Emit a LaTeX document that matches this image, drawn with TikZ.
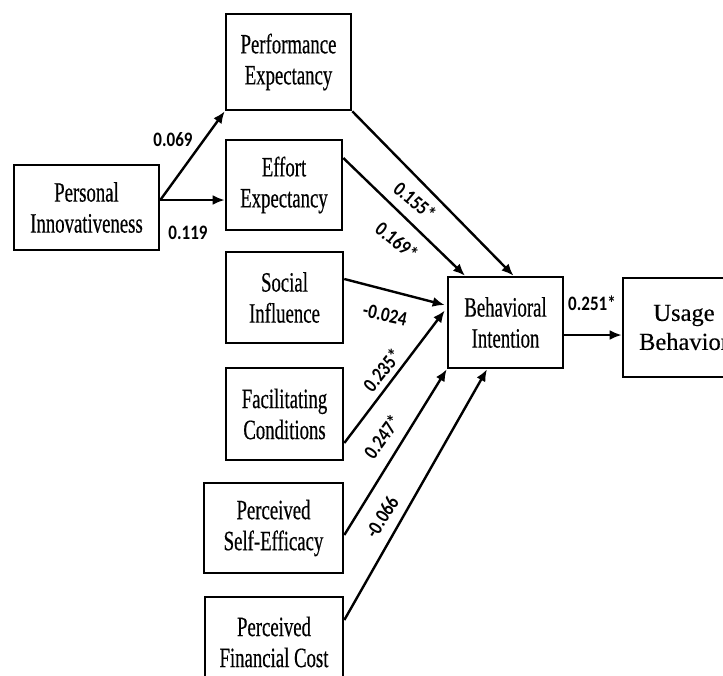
\documentclass[tikz,border=0pt]{standalone}
\usepackage{fontspec}
\setmainfont{Liberation Serif}
\newfontfamily\boxfont[FakeStretch=0.67,FakeBold=0.4]{Liberation Serif}
\newfontfamily\plainfont[FakeBold=0.3]{Liberation Serif}
\newfontfamily\coeffont[FakeStretch=0.83]{Carlito}
\usetikzlibrary{arrows.meta,calc}

\begin{document}
\begin{tikzpicture}[x=1pt,y=-1pt,
  box/.style={draw, line width=2.6pt, align=center, inner sep=0pt,
    font=\boxfont\fontsize{28}{31}\selectfont},
  plainbox/.style={box, font=\plainfont\fontsize{24.5}{29}\selectfont},
  link/.style={line width=2.4pt, -{Latex[length=12pt,width=10pt]}},
  coef/.style={font=\coeffont\bfseries\fontsize{20.5}{22}\selectfont, inner sep=0pt}]

\useasboundingbox (0,0) rectangle (723,675);
\clip (0,0) rectangle (723,675);
\fill[white] (0,0) rectangle (723,675);

% constructs
\node[box, minimum width=145pt, minimum height=85pt] (PI)  at (86.5,207.5) {Personal\\Innovativeness};
\node[box, minimum width=125pt, minimum height=96pt] (PE)  at (288.5,62)   {Performance\\Expectancy};
\node[box, minimum width=116pt, minimum height=90pt] (EE)  at (284,185)    {Effort\\Expectancy};
\node[box, minimum width=117pt, minimum height=91pt] (SI)  at (284.5,297.5){Social\\Influence};
\node[box, minimum width=117pt, minimum height=92pt] (FC)  at (284.5,414)  {Facilitating\\Conditions};
\node[box, minimum width=139pt, minimum height=90pt] (PSE) at (273.5,528)  {Perceived\\Self-Efficacy};
\node[box, minimum width=138pt, minimum height=90pt] (PFC) at (274,642)    {Perceived\\Financial Cost};
\node[box, minimum width=115pt, minimum height=91pt] (BI)  at (505.5,322.5){Behavioral\\Intention};
\node[plainbox, minimum width=122pt, minimum height=99pt] (UB) at (684,327.5) {Usage\\Behavior};

% paths
\draw[link] ($(PI.east)+(0,-7.5)$) -- (PE.south west);
\draw[link] ($(PI.east)+(0,-7.5)$) -- ($(EE.west)+(0,15)$);
\draw[link] (PE.south east) -- ($(BI.north)+(8,0)$);
\draw[link] ($(EE.east)+(0,-27)$) -- ($(BI.north)+(-40.5,0)$);
\draw[link] ($(SI.east)+(0,-18.5)$) -- ($(BI.west)+(-2,-17.5)$);
\draw[link] ($(FC.east)+(0,29)$) -- ($(BI.west)+(-2,-12)$);
\draw[link] ($(PSE.east)+(0,7)$) -- (BI.south west);
\draw[link] ($(PFC.east)+(0,-22)$) -- ($(BI.south)+(-18.5,0)$);
\draw[link] ($(BI.east)+(0,12.5)$) -- ($(UB.west)+(0,7.5)$);

% path coefficients
\node[coef] (c1) at (173,140) {0.069};
\node[coef] (c2) at (188,233) {0.119};
\node[coef, rotate=-40] (c3) at (415,201) {0.155*};
\node[coef, rotate=-39] (c4) at (397,241) {0.169*};
\node[coef, rotate=-12] (c5) at (385,315) {-0.024};
\node[coef, rotate=51]  (c6) at (382,370) {0.235*};
\node[coef, rotate=54]  (c7) at (382,437) {0.247*};
\node[coef, rotate=58]  (c8) at (382,517) {-0.066};
\node[coef] (c9) at (592,303) {0.251*};
\end{tikzpicture}
\end{document}
